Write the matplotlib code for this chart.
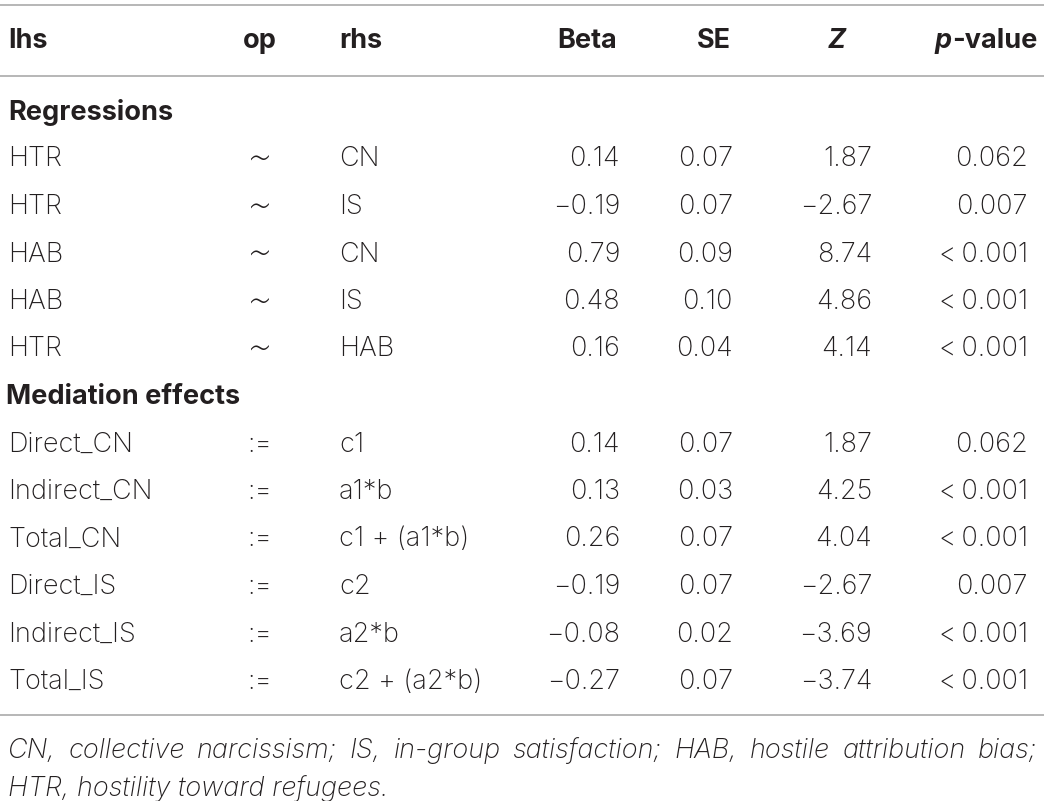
import matplotlib.pyplot as plt

plt.rcParams['font.family'] = ['Inter', 'DejaVu Sans']

# data of the table
lhs = ['HTR', 'HTR', 'HAB', 'HAB', 'HTR',
       'Direct_CN', 'Indirect_CN', 'Total_CN', 'Direct_IS', 'Indirect_IS', 'Total_IS']
op = ['\u223c'] * 5 + [':='] * 6
rhs = ['CN', 'IS', 'CN', 'IS', 'HAB',
       'c1', 'a1*b', 'c1 + (a1*b)', 'c2', 'a2*b', 'c2 + (a2*b)']
beta = ['0.14', '\u22120.19', '0.79', '0.48', '0.16',
        '0.14', '0.13', '0.26', '\u22120.19', '\u22120.08', '\u22120.27']
se = ['0.07', '0.07', '0.09', '0.10', '0.04',
      '0.07', '0.03', '0.07', '0.07', '0.02', '0.07']
z = ['1.87', '\u22122.67', '8.74', '4.86', '4.14',
     '1.87', '4.25', '4.04', '\u22122.67', '\u22123.69', '\u22123.74']
pval = ['0.062', '0.007', '<\u20090.001', '<\u20090.001', '<\u20090.001',
        '0.062', '<\u20090.001', '<\u20090.001', '0.007', '<\u20090.001', '<\u20090.001']
sections = ['Regressions', 'Mediation effects']
footnote = ['CN, collective narcissism; IS, in-group satisfaction; HAB, hostile attribution bias;',
            'HTR, hostility toward refugees.']

TXT = '#231f20'
LINE = '#a3a3a3'
FS = 19.5

fig = plt.figure(figsize=(10.44, 8.01), dpi=100)
ax = fig.add_axes([0, 0, 1, 1])
ax.set_xlim(0, 1044)
ax.set_ylim(801, 0)
ax.axis('off')

# rules
for yy in [5, 76, 715]:
    ax.plot([0, 1044], [yy, yy], color=LINE, lw=1.1, solid_capstyle='butt')

# header
hy = 41
hkw = dict(fontsize=FS, fontweight='bold', color=TXT, va='center')
ax.text(8, hy, 'lhs', ha='left', **hkw)
ax.text(260, hy, 'op', ha='center', **hkw)
ax.text(339, hy, 'rhs', ha='left', **hkw)
ax.text(617, hy, 'Beta', ha='right', **hkw)
ax.text(731, hy, 'SE', ha='right', **hkw)
ax.text(846, hy, 'Z', ha='right', style='italic', **hkw)
tv = ax.text(1037, hy, '-value', ha='right', **hkw)
fig.canvas.draw()
r = fig.canvas.get_renderer()
bb = tv.get_window_extent(r)
x_left = ax.transData.inverted().transform((bb.x0, 0))[0]
ax.text(x_left, hy, 'p', ha='right', style='italic', **hkw)

# body
y0 = 112
step = 47.5
bkw = dict(fontsize=FS, color=TXT, va='center', fontweight='light')
k = 0
for i in range(len(lhs)):
    if i == 0:
        ax.text(8, y0, sections[0], ha='left', fontsize=FS, fontweight='bold', color=TXT, va='center')
        k = 1
    if i == 5:
        ax.text(6, y0 + step * k, sections[1], ha='left', fontsize=FS, fontweight='bold', color=TXT, va='center')
        k += 1
    y = y0 + step * k
    ax.text(8, y, lhs[i], ha='left', **bkw)
    if op[i] == '\u223c':
        # wide math tilde
        ax.text(260, y + 1, op[i], ha='center', fontsize=27, color=TXT, va='center',
                family='DejaVu Sans', fontweight='light')
    else:
        ax.text(260, y, op[i], ha='center', **bkw)
    ax.text(339, y, rhs[i], ha='left', **bkw)
    ax.text(620, y, beta[i], ha='right', **bkw)
    ax.text(733, y, se[i], ha='right', **bkw)
    ax.text(872, y, z[i], ha='right', **bkw)
    ax.text(1028, y, pval[i], ha='right', **bkw)
    k += 1

# footnote: first line justified across the width
fkw = dict(fontsize=FS, color=TXT, va='center', style='italic', fontweight='light')
words = footnote[0].split(' ')
inv = ax.transData.inverted()
widths = []
for w in words:
    t = ax.text(0, 0, w, ha='left', **fkw)
    b = t.get_window_extent(r)
    widths.append(inv.transform((b.x1, 0))[0] - inv.transform((b.x0, 0))[0])
    t.remove()
gap = (1037 - 8 - sum(widths)) / (len(words) - 1)
x = 8
for w, wd in zip(words, widths):
    ax.text(x, 751, w, ha='left', **fkw)
    x += wd + gap
ax.text(8, 789, footnote[1], ha='left', **fkw)

fig.savefig('out.png', dpi=100, facecolor='white')
